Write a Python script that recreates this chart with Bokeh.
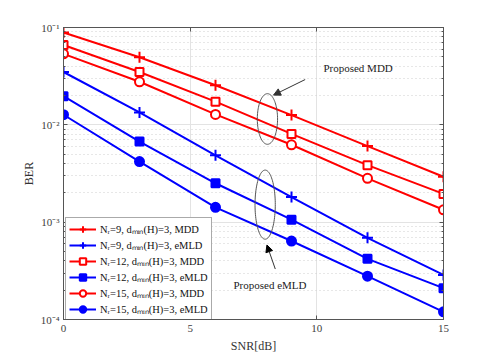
import numpy as np
from bokeh.plotting import figure
from bokeh.models import (FixedTicker, LogAxis, LinearAxis, CustomJSTickFormatter,
                          Legend, LegendItem, Arrow, NormalHead, Label, Range1d)
from bokeh.embed import file_html
from bokeh.resources import INLINE

# ---- data ----
snr = [0, 3, 6, 9, 12, 15]
ber_n9_mdd = [0.089, 0.0495, 0.0255, 0.0126, 0.00605, 0.00293]
ber_n9_emld = [0.0349, 0.0134, 0.00486, 0.00181, 0.00069, 0.000287]
ber_n12_mdd = [0.066, 0.0349, 0.0173, 0.00807, 0.00385, 0.00195]
ber_n12_emld = [0.0197, 0.00673, 0.00251, 0.00106, 0.00042, 0.00021]
ber_n15_mdd = [0.0536, 0.0277, 0.0128, 0.00624, 0.00282, 0.00134]
ber_n15_emld = [0.0127, 0.00419, 0.00142, 0.00064, 0.000279, 0.00012]

labels = [
    "N\u1d63=9, d\u2098\u1d62\u2099(H)=3, MDD",
    "N\u1d63=9, d\u2098\u1d62\u2099(H)=3, eMLD",
    "N\u1d63=12, d\u2098\u1d62\u2099(H)=3, MDD",
    "N\u1d63=12, d\u2098\u1d62\u2099(H)=3, eMLD",
    "N\u1d63=15, d\u2098\u1d62\u2099(H)=3, MDD",
    "N\u1d63=15, d\u2098\u1d62\u2099(H)=3, eMLD",
]

x_ticks = [0, 5, 10, 15]
y_ticks = [1e-4, 1e-3, 1e-2, 1e-1]

FONT = "Liberation Serif"
RED = "#ff0000"
BLUE = "#0000ff"

p = figure(width=483, height=355, output_backend="svg", toolbar_location=None,
           y_axis_type="log", x_range=Range1d(0, 15), y_range=Range1d(1e-4, 1e-1),
           min_border_left=63, min_border_right=40, min_border_top=27, min_border_bottom=33)
p.background_fill_color = "white"
p.border_fill_color = "white"
p.outline_line_color = "#555555"

minor_y = [m * 10.0 ** e for e in range(-4, -1) for m in range(2, 10)]
yticker = FixedTicker(ticks=y_ticks, minor_ticks=minor_y)
xticker = FixedTicker(ticks=x_ticks, minor_ticks=[])

fmt = CustomJSTickFormatter(code="""
const e = Math.round(Math.log10(tick));
const sup = {'-':'\u207b','0':'\u2070','1':'\u00b9','2':'\u00b2','3':'\u00b3','4':'\u2074','5':'\u2075','6':'\u2076','7':'\u2077','8':'\u2078','9':'\u2079'};
return '10' + String(e).split('').map(c => sup[c]).join('');
""")

def style_axis(ax):
    ax.axis_line_color = "#555555"
    ax.major_tick_line_color = "#555555"
    ax.minor_tick_line_color = "#555555"
    ax.major_tick_in = 4
    ax.major_tick_out = 0
    ax.minor_tick_in = 2
    ax.minor_tick_out = 0
    ax.major_label_text_font = FONT
    ax.major_label_text_font_size = "11px"
    ax.major_label_text_color = "#404040"
    ax.axis_label_text_font = FONT
    ax.axis_label_text_font_size = "12px"
    ax.axis_label_text_font_style = "normal"
    ax.axis_label_text_color = "#333333"

p.xaxis.ticker = xticker
p.yaxis.ticker = yticker
p.yaxis.formatter = fmt
p.xaxis.axis_label = "SNR[dB]"
p.yaxis.axis_label = "BER"
style_axis(p.xaxis[0])
style_axis(p.yaxis[0])
p.xaxis.major_label_standoff = 5
p.yaxis.major_label_standoff = 4
p.yaxis.axis_label_standoff = 2
p.xaxis.axis_label_standoff = 4

# box axes on the right and top: ticks only
rax = LogAxis(ticker=yticker)
style_axis(rax)
rax.major_label_text_color = None
p.add_layout(rax, "right")
tax = LinearAxis(ticker=xticker)
style_axis(tax)
tax.major_label_text_color = None
p.add_layout(tax, "above")

p.xgrid.ticker = xticker
p.ygrid.ticker = yticker
p.xgrid.grid_line_color = "#e3e3e3"
p.ygrid.grid_line_color = "#e3e3e3"
p.ygrid.minor_grid_line_color = "#cfcfcf"
p.ygrid.minor_grid_line_dash = "1 3"

series = [
    (ber_n9_mdd, RED, "cross", RED, 11),
    (ber_n9_emld, BLUE, "cross", BLUE, 11),
    (ber_n12_mdd, RED, "square", "white", 8),
    (ber_n12_emld, BLUE, "square", BLUE, 8),
    (ber_n15_mdd, RED, "circle", "white", 9),
    (ber_n15_emld, BLUE, "circle", BLUE, 9),
]
items = []
for (vals, col, mk, fill, sz), lab in zip(series, labels):
    r1 = p.line(snr, vals, line_color=col, line_width=2)
    r2 = p.scatter(snr, vals, marker=mk, size=sz, line_color=col, fill_color=fill, line_width=2)
    items.append(LegendItem(label=lab, renderers=[r1, r2]))

# ellipses (drawn in log space)
t = np.linspace(0, 2 * np.pi, 100)
for cx, cy, hw, hh in [(8.05, -1.94, 0.40, 0.26), (7.96, -2.82, 0.40, 0.355)]:
    p.line(cx + hw * np.cos(t), 10 ** (cy + hh * np.sin(t)), line_color="#555555", line_width=1)

p.add_layout(Arrow(end=NormalHead(size=7, fill_color="#333333", line_color="#333333"),
                   x_start=9.54, y_start=0.0292, x_end=8.29, y_end=0.0202,
                   line_color="#333333", line_width=1))
p.add_layout(Arrow(end=NormalHead(size=7, fill_color="black", line_color="black"),
                   x_start=8.36, y_start=3.3e-4, x_end=8.03, y_end=5.83e-4,
                   line_color="#333333", line_width=1))
p.add_layout(Label(x=10.26, y=0.0384, text="Proposed MDD", text_font=FONT,
                   text_font_size="11px", text_baseline="middle", text_color="#222222"))
p.add_layout(Label(x=6.71, y=2.25e-4, text="Proposed eMLD", text_font=FONT,
                   text_font_size="11px", text_baseline="middle", text_color="#222222"))

leg = Legend(items=items, location=(2, -2))
leg.label_text_font = FONT
leg.label_text_font_size = "10.5px"
leg.label_text_color = "#111111"
leg.glyph_width = 27
leg.glyph_height = 16
leg.label_height = 16
leg.spacing = 0
leg.padding = 3
leg.margin = 0
leg.label_standoff = 4
leg.border_line_color = "#555555"
leg.background_fill_alpha = 1
p.add_layout(leg, "center")

open("out.html", "w").write(file_html(p, INLINE))
